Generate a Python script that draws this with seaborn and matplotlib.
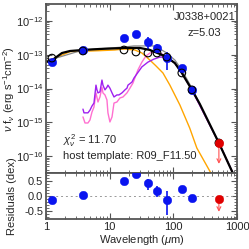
import numpy as np
import pandas as pd
import matplotlib
matplotlib.use("Agg")
import matplotlib.pyplot as plt
import matplotlib.ticker as mticker
import seaborn as sns

# observed photometry (um, log10 nu f_nu)
obs_wave = [1.24, 3.8, 16.8, 25.9, 40.0, 55.5, 79.0, 136.0, 196.0]
obs_logf = [-13.22, -12.86, -12.50, -12.39, -12.62, -12.80, -13.10, -13.40, -14.04]
obs_frac_err = [0.0, 0.0, 0.0, 0.0, 0.40, 0.28, 0.55, 0.0, 0.0]
# model photometry (open circles)
mod_wave = [1.24, 3.8, 16.8, 25.9, 40.0, 55.5, 79.0, 136.0, 196.0, 520.0]
mod_logf = [-13.10, -12.89, -12.86, -12.92, -12.95, -12.95, -13.07, -13.54, -14.04, -15.61]
# upper limit
lim_wave = [520.0]
lim_logf = [-15.61]
lim_resid = [-0.10]
# residuals (dex)
res_vals = [-0.13, 0.04, 0.50, 0.72, 0.43, 0.17, -0.13, 0.23, -0.07]
res_err_lo = [0.0, 0.0, 0.0, 0.0, 0.22, 0.20, 0.50, 0.0, 0.0]
res_err_hi = [0.0, 0.0, 0.0, 0.0, 0.15, 0.16, 0.30, 0.0, 0.0]

# total model
tot_wave = [1.0, 1.155, 1.385, 1.78, 2.38, 3.81, 7.04, 17.4, 29.9, 42.9, 61.7, 79.2, 106, 136, 196, 261, 520, 859, 1000]
tot_logf = [-13.19, -13.22, -13.10, -12.95, -12.89, -12.86, -12.83, -12.80, -12.80, -12.86, -12.98, -13.07, -13.25, -13.54, -14.04, -14.46, -15.61, -16.50, -16.76]
# alternative total model (gray)
alt_wave = [1.0, 3.81, 17.4, 24.1, 29.9, 42.9, 53.3, 61.7, 79.2, 106, 136, 196, 520, 1000]
alt_logf = [-13.19, -12.86, -12.77, -12.74, -12.74, -12.74, -12.74, -12.83, -12.95, -13.16, -13.45, -13.99, -15.61, -16.76]
# AGN torus
agn_wave = [1.0, 1.385, 2.38, 7.04, 12.1, 16.8, 24.9, 32.1, 42.9, 53.3, 68.7, 88.3, 127, 181, 234, 389, 536]
agn_logf = [-13.19, -13.10, -12.91, -12.88, -12.86, -12.83, -12.86, -12.95, -13.16, -13.33, -13.54, -13.90, -14.49, -15.17, -15.76, -16.50, -17.15]
# host templates
host1_wave = [3.81, 3.95, 4.56, 4.91, 5.27, 5.67, 6.10, 6.32, 6.55, 7.04, 7.57, 7.85, 8.44, 9.07, 9.40, 10.1, 10.9,
              11.7, 13.0, 14.0, 15.6, 16.2, 17.4, 18.7, 19.4, 22.4, 24.1, 32.1, 39.9, 49.6, 61.7, 79.2, 106, 136, 196, 520, 1000]
host1_logf = [-14.61, -14.72, -14.72, -14.64, -14.52, -14.43, -13.90, -14.04, -14.13, -14.10, -13.75, -13.90, -14.04, -13.96, -13.90, -13.99, -14.13,
              -14.25, -14.19, -14.19, -14.13, -14.10, -14.04, -13.99, -13.90, -13.81, -13.69, -13.36, -13.22, -13.13, -13.07, -13.07, -13.25, -13.54, -14.04, -15.61, -16.76]
host2_wave = [3.81, 4.10, 4.56, 4.91, 5.27, 5.67, 6.10, 6.55, 7.04, 7.57, 7.85, 8.44, 9.07, 9.40, 10.1, 10.9, 11.7,
              13.0, 14.5, 16.2, 18.7, 20.8, 23.2, 27.8, 32.1, 37.1, 42.9, 53.3, 66.3, 79.2, 106, 136, 196, 520, 1000]
host2_logf = [-14.84, -15.02, -15.02, -14.93, -14.70, -14.55, -14.13, -14.40, -14.25, -13.96, -14.13, -14.19, -14.34, -14.72, -14.99, -14.84, -14.43,
              -14.40, -14.28, -14.25, -14.13, -13.99, -13.84, -13.45, -13.22, -13.04, -12.95, -12.92, -12.98, -13.07, -13.25, -13.54, -14.04, -15.61, -16.76]

flux_decades = [-16, -15, -14, -13, -12]
wave_ticks = [1, 10, 100, 1000]
wave_labels = ["1", "10", "100", "1000"]
res_ticks = [-0.5, 0.0, 0.5]
res_labels = ["-0.5", "0.0", "0.5"]

source_name = "J0338+0021"
redshift = "z=5.03"
chi2_text = r"$\chi^2_\nu$ = 11.70"
host_text = "host template: R09_F11.50"

sns.set_style("ticks")
plt.rcParams["font.family"] = ["Liberation Sans", "DejaVu Sans"]
plt.rcParams["mathtext.fontset"] = "custom"
plt.rcParams["mathtext.rm"] = "Liberation Sans"
plt.rcParams["mathtext.it"] = "Liberation Sans:italic"
plt.rcParams["font.size"] = 8

spine_col = "#555555"
blue = "#0a14f0"

fig = plt.figure(figsize=(2.49, 2.49), dpi=100)
ax = fig.add_axes([0.1847, 0.3052, 0.767, 0.6787])
axr = fig.add_axes([0.1847, 0.1205, 0.767, 0.1847])

def lin(w, lf):
    return pd.DataFrame({"w": w, "f": 10.0 ** np.array(lf)})

sns.lineplot(data=lin(agn_wave, agn_logf), x="w", y="f", sort=False, estimator=None, color="#ffa500", lw=1.0, ax=ax)
sns.lineplot(data=lin(host2_wave, host2_logf), x="w", y="f", sort=False, estimator=None, color="#ff70d0", lw=1.0, ax=ax)
sns.lineplot(data=lin(host1_wave, host1_logf), x="w", y="f", sort=False, estimator=None, color="#a020f0", lw=1.0, ax=ax)
sns.lineplot(data=lin(alt_wave, alt_logf), x="w", y="f", sort=False, estimator=None, color="#888888", lw=0.9, ax=ax)
sns.lineplot(data=lin(tot_wave, tot_logf), x="w", y="f", sort=False, estimator=None, color="black", lw=1.6, ax=ax)

of = 10.0 ** np.array(obs_logf)
oerr = of * np.array(obs_frac_err)
ax.errorbar(obs_wave, of, yerr=oerr, fmt="none", ecolor=blue, elinewidth=1.2, capsize=0, zorder=4)
sns.scatterplot(x=obs_wave, y=of, color=blue, s=38, edgecolor=blue, linewidth=0.3, ax=ax, zorder=5)
sns.scatterplot(x=mod_wave, y=10.0 ** np.array(mod_logf), facecolor="none", edgecolor="black", s=30, linewidth=0.8, ax=ax, zorder=6)
lf = 10.0 ** np.array(lim_logf)
for w, f in zip(lim_wave, lf):
    ax.annotate("", xy=(w, f * 10 ** -0.62), xytext=(w, f),
                arrowprops=dict(arrowstyle="->", color="#ff5050", lw=0.8, shrinkA=0, shrinkB=0, mutation_scale=7), zorder=6)
sns.scatterplot(x=lim_wave, y=lf, color="#e00000", s=38, edgecolor="#e00000", linewidth=0.3, ax=ax, zorder=7)

ax.set_xscale("log")
ax.set_yscale("log")
ax.set_xlim(1, 1000)
ax.set_ylim(10 ** -16.5, 10 ** -11.5)
ax.set_yticks([10.0 ** d for d in flux_decades])
ax.set_yticklabels([r"$10^{%d}$" % d for d in flux_decades])
ax.yaxis.set_minor_locator(mticker.LogLocator(base=10, subs=np.arange(2, 10), numticks=20))
ax.yaxis.set_minor_formatter(mticker.NullFormatter())
ax.set_xticks(wave_ticks)
ax.xaxis.set_minor_locator(mticker.LogLocator(base=10, subs=np.arange(2, 10), numticks=20))
ax.set_xlabel("")
ax.set_ylabel(r"$\nu$ f$_\nu$ (erg s$^{-1}$cm$^{-2}$)", fontsize=8)
ax.tick_params(labelbottom=False)

ax.text(0.83, 0.923, source_name, transform=ax.transAxes, ha="center", va="center", fontsize=8)
ax.text(0.83, 0.828, redshift, transform=ax.transAxes, ha="center", va="center", fontsize=8)
ax.text(0.089, 0.189, chi2_text, transform=ax.transAxes, ha="left", va="center", fontsize=8)
ax.text(0.089, 0.10, host_text, transform=ax.transAxes, ha="left", va="center", fontsize=8)

# residual panel
axr.axhline(0, color="#999999", lw=0.7, ls=(0, (2, 3)))
axr.errorbar(obs_wave, res_vals, yerr=[res_err_lo, res_err_hi], fmt="none", ecolor=blue, elinewidth=1.2, capsize=0)
sns.scatterplot(x=obs_wave, y=res_vals, color=blue, s=38, edgecolor=blue, linewidth=0.3, ax=axr, zorder=5)
for w, r in zip(lim_wave, lim_resid):
    axr.annotate("", xy=(w, r - 0.43), xytext=(w, r),
                 arrowprops=dict(arrowstyle="->", color="#ff5050", lw=0.8, shrinkA=0, shrinkB=0, mutation_scale=7))
sns.scatterplot(x=lim_wave, y=lim_resid, color="#e00000", s=38, edgecolor="#e00000", linewidth=0.3, ax=axr, zorder=6)
axr.set_xscale("log")
axr.set_xlim(1, 1000)
axr.set_ylim(-0.77, 0.77)
axr.set_yticks(res_ticks)
axr.set_yticklabels(res_labels)
axr.yaxis.set_minor_locator(mticker.MultipleLocator(0.1))
axr.set_xticks(wave_ticks)
axr.set_xticklabels(wave_labels)
axr.xaxis.set_minor_locator(mticker.LogLocator(base=10, subs=np.arange(2, 10), numticks=20))
axr.xaxis.set_minor_formatter(mticker.NullFormatter())
axr.set_xlabel(r"Wavelength ($\mu$m)", fontsize=8, labelpad=1)
axr.set_ylabel("Residuals (dex)", fontsize=8)

for a in (ax, axr):
    a.yaxis.set_label_coords(-0.15, 0.5)
    for s in a.spines.values():
        s.set_color(spine_col)
        s.set_linewidth(1.3)
    a.tick_params(which="both", direction="in", top=True, right=True, color=spine_col, labelsize=8, pad=2)
    a.tick_params(which="major", length=4, width=0.8)
    a.tick_params(which="minor", length=2, width=0.6)
    if a.get_legend():
        a.get_legend().remove()

fig.savefig("out.png", dpi=100)
